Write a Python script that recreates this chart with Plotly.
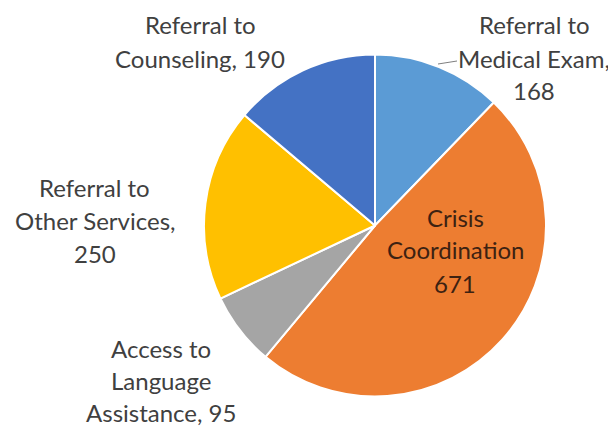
import plotly.graph_objects as go

categories = ["Referral to Medical Exam", "Crisis Coordination", "Access to Language Assistance",
              "Referral to Other Services", "Referral to Counseling"]
values = [168, 671, 95, 250, 190]
colors = ["#5B9BD5", "#ED7D31", "#A5A5A5", "#FFC000", "#4472C4"]

# label wrapping (words per line, value counted as a word) and separators
label_wrap = [[2, 2, 1], [1, 1, 1], [2, 1, 2], [2, 2, 1], [2, 2]]
label_sep = [", ", " ", ", ", ", ", ", "]
# label block centre positions in page pixels (x, first-line y)
label_pos = [(534, 25), (455, 217), (161, 348), (95, 187), (200, 25)]
label_color = ["#404040", "#3d2212", "#404040", "#404040", "#404040"]

OFF = 8            # page body margin
W, H = 616 - OFF, 428 - OFF
LINE = 33


def fx(px):
    return (px - OFF) / W


def fy(py):
    return 1 - (py - OFF) / H


cx, cy, r = 375, 225.5, 171

fig = go.Figure(go.Pie(
    labels=categories, values=values, sort=False, direction="clockwise", rotation=0,
    marker=dict(colors=colors, line=dict(color="white", width=2)),
    textinfo="none", hoverinfo="label+value", showlegend=False,
    domain=dict(x=[fx(cx - r), fx(cx + r)], y=[fy(cy + r), fy(cy - r)]),
))

annotations = []
for idx, (cat, val, wrap, sep, (px, py), col) in enumerate(
        zip(categories, values, label_wrap, label_sep, label_pos, label_color)):
    words = (cat + sep + str(val)).split(" ")
    lines, i = [], 0
    for n in wrap:
        lines.append(" ".join(words[i:i + n]))
        i += n
    line_gap = 32 if idx == 2 else LINE
    for k, line in enumerate(lines):
        annotations.append(dict(
            text=line, x=fx(px), y=fy(py + k * line_gap), xref="paper", yref="paper",
            xanchor="center", yanchor="middle", showarrow=False,
            font=dict(family="Lato", size=24, color=col)))

fig.update_layout(
    width=W, height=H, margin=dict(l=0, r=0, t=0, b=0),
    paper_bgcolor="white", plot_bgcolor="white",
    annotations=annotations,
    shapes=[dict(type="line", xref="paper", yref="paper",
                 x0=fx(438), y0=fy(64), x1=fx(457), y1=fy(61),
                 line=dict(color="#7f7f7f", width=1))],
)

fig.write_html("out.html")
